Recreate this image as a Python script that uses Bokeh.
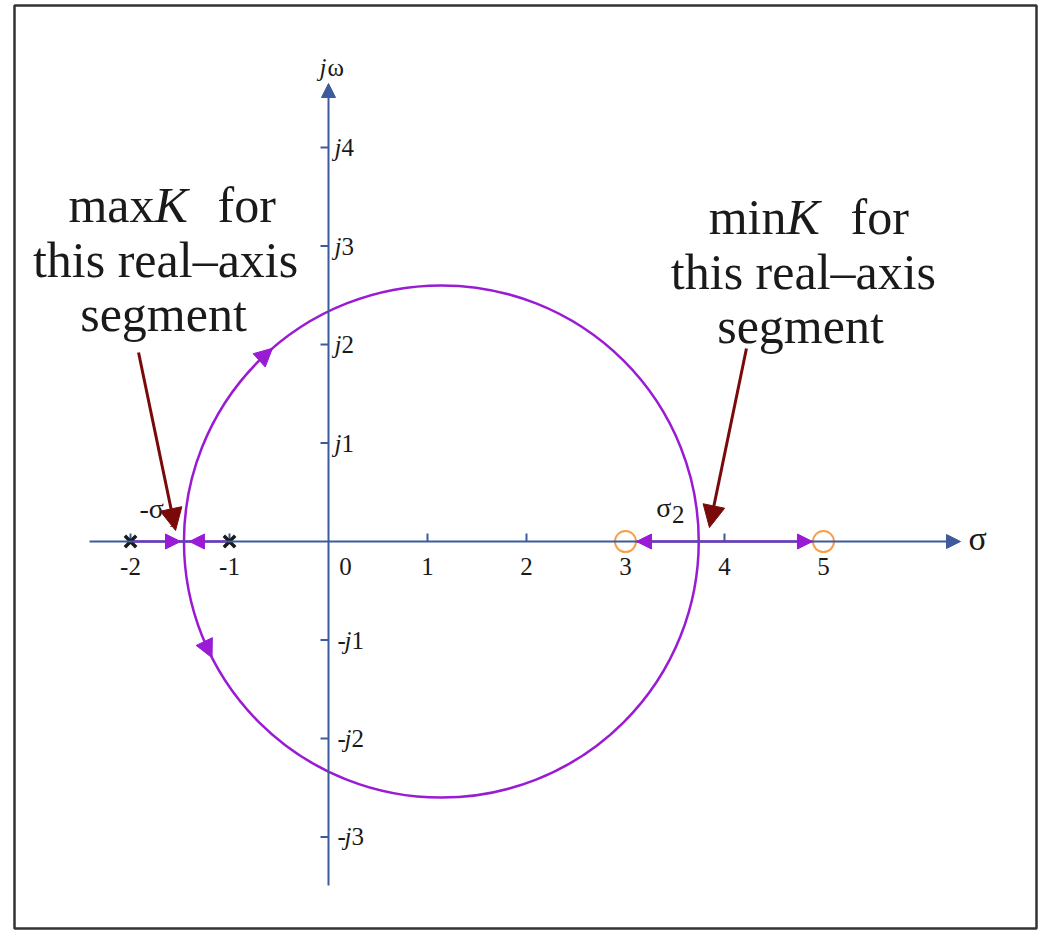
import numpy as np
from bokeh.plotting import figure
from bokeh.models import Range1d, Arrow, NormalHead
from bokeh.core.properties import value
from bokeh.embed import file_html
from bokeh.resources import INLINE

# Open-loop poles and zeros (all on the real axis)
poles = [-2.0, -1.0]
zeros = [3.0, 5.0]
# Break-away and break-in points of the locus
sigma1 = -1.46
sigma2 = 3.74

# Tick marks and labels
x_tick_values = [-2, -1, 1, 2, 3, 4, 5]
x_label_values = [-2, -1, 0, 1, 2, 3, 4, 5]
x_label_texts = ["-2", "-1", "0", "1", "2", "3", "4", "5"]
y_pos_ticks = [4, 3, 2, 1]
y_neg_ticks = [-1, -2, -3]

# Colours
AXIS = "#3d5a9c"
LOCUS = "#9a1bd4"
NOTE = "#7a0a0a"
ZERO = "#f5a04a"
INK = "#1a1a1a"
SERIF = value("Liberation Serif")
TICK_SIZE = "25px"

# pixels per unit on each axis
XS, YS = 99.0, 98.5

p = figure(width=1042, height=930,
           x_range=Range1d(-3.172, 7.152), y_range=Range1d(-3.929, 5.442),
           x_axis_type=None, y_axis_type=None,
           min_border_left=14, min_border_right=6, min_border_top=5, min_border_bottom=2,
           output_backend="svg", toolbar_location=None)
p.grid.visible = False
p.outline_line_color = "#333333"
p.outline_line_width = 2.5
p.background_fill_color = "white"
p.border_fill_color = "white"

# s-plane axes with arrow heads
p.add_layout(Arrow(end=NormalHead(size=14, fill_color=AXIS, line_color=AXIS),
                   x_start=-2.414, y_start=0, x_end=6.384, y_end=0,
                   line_color=AXIS, line_width=2))
p.add_layout(Arrow(end=NormalHead(size=14, fill_color=AXIS, line_color=AXIS),
                   x_start=0, y_start=-3.492, x_end=0, y_end=4.650,
                   line_color=AXIS, line_width=2))

# tick marks
p.segment(x0=x_tick_values, y0=[0] * len(x_tick_values),
          x1=x_tick_values, y1=[8 / YS] * len(x_tick_values),
          line_color=AXIS, line_width=2)
y_all = y_pos_ticks + y_neg_ticks
p.segment(x0=[-8 / XS] * len(y_all), y0=y_all, x1=[0] * len(y_all), y1=y_all,
          line_color=AXIS, line_width=2)

# x tick labels ("0" sits right of the imaginary axis)
x_offsets = [17 if v == 0 else 0 for v in x_label_values]
p.text(x=x_label_values, y=[0] * len(x_label_values), text=x_label_texts,
       x_offset=x_offsets, y_offset=[25] * len(x_label_values),
       text_font=SERIF, text_font_size=TICK_SIZE, text_color=INK,
       text_align="center", text_baseline="middle")

# y tick labels: italic j with upright digits
p.text(x=[0] * len(y_pos_ticks), y=y_pos_ticks, text=["j"] * len(y_pos_ticks),
       x_offset=6, text_font=SERIF, text_font_size=TICK_SIZE, text_font_style="italic",
       text_color=INK, text_align="left", text_baseline="middle")
p.text(x=[0] * len(y_pos_ticks), y=y_pos_ticks, text=[str(v) for v in y_pos_ticks],
       x_offset=13, text_font=SERIF, text_font_size=TICK_SIZE,
       text_color=INK, text_align="left", text_baseline="middle")
p.text(x=[0] * len(y_neg_ticks), y=y_neg_ticks, text=["-"] * len(y_neg_ticks),
       x_offset=9, text_font=SERIF, text_font_size=TICK_SIZE,
       text_color=INK, text_align="left", text_baseline="middle")
p.text(x=[0] * len(y_neg_ticks), y=y_neg_ticks, text=["j"] * len(y_neg_ticks),
       x_offset=16, text_font=SERIF, text_font_size=TICK_SIZE, text_font_style="italic",
       text_color=INK, text_align="left", text_baseline="middle")
p.text(x=[0] * len(y_neg_ticks), y=y_neg_ticks, text=[str(-v) for v in y_neg_ticks],
       x_offset=23, text_font=SERIF, text_font_size=TICK_SIZE,
       text_color=INK, text_align="left", text_baseline="middle")

# axis names
p.text(x=[6.465], y=[0.03], text=["σ"], text_font=SERIF, text_font_size="34px",
       text_color=INK, text_align="left", text_baseline="middle")
p.text(x=[-0.091], y=[4.812], text=["j"], text_font=SERIF, text_font_size=TICK_SIZE,
       text_font_style="italic", text_color=INK, text_align="left", text_baseline="middle")
p.text(x=[-0.01], y=[4.812], text=["ω"], text_font=SERIF, text_font_size=TICK_SIZE,
       text_color=INK, text_align="left", text_baseline="middle")

# real-axis parts of the locus
p.segment(x0=[poles[0], zeros[0]], y0=[0, 0], x1=[poles[1], zeros[1]], y1=[0, 0],
          line_color=LOCUS, line_width=2.5)

# complex part of the locus: circle through both break points
center = (sigma1 + sigma2) / 2
radius = (sigma2 - sigma1) / 2
p.ellipse(x=[center], y=[0], width=[2 * radius], height=[2 * radius],
          fill_color=None, line_color=LOCUS, line_width=2.5)

# direction arrows on the circle
def on_circle(deg):
    t = np.deg2rad(deg)
    return center + radius * np.cos(t), radius * np.sin(t)

for a0, a1 in [(134, 131), (204, 207)]:
    xs, ys = on_circle(a0)
    xe, ye = on_circle(a1)
    p.add_layout(Arrow(end=NormalHead(size=18, fill_color=LOCUS, line_color=LOCUS),
                       x_start=xs, y_start=ys, x_end=xe, y_end=ye,
                       line_alpha=0))

# direction arrows on the real axis
gap = 11 / XS
real_arrows = [
    (poles[0], sigma1 - 0.035),
    (poles[1], sigma1 + 0.055),
    (sigma2, zeros[0] + gap),
    (sigma2, zeros[1] - gap),
]
for xs, xe in real_arrows:
    p.add_layout(Arrow(end=NormalHead(size=15, fill_color=LOCUS, line_color=LOCUS),
                       x_start=xs, y_start=0, x_end=xe, y_end=0, line_alpha=0))

# poles and zeros
p.scatter(x=poles, y=[0] * len(poles), marker="x", size=16, line_width=3.5, line_color=INK)
p.scatter(x=zeros, y=[0] * len(zeros), marker="circle", size=21,
          fill_color="white", line_color=ZERO, line_width=2)

# break point names
p.text(x=[-1.909], y=[0.335], text=["-σ"], text_font=SERIF, text_font_size="28px",
       text_color=INK, text_align="left", text_baseline="middle")
p.text(x=[-1.62], y=[0.213], text=["1"], text_font=SERIF, text_font_size="18px",
       text_color=INK, text_align="left", text_baseline="middle")
p.text(x=[3.31], y=[0.345], text=["σ"], text_font=SERIF, text_font_size="28px",
       text_color=INK, text_align="left", text_baseline="middle")
p.text(x=[3.47], y=[0.27], text=["2"], text_font=SERIF, text_font_size="25px",
       text_color=INK, text_align="left", text_baseline="middle")

# notes on the gain at the break points
NOTE_SIZE = "50px"

def note_line(x, y, txt, align="center", style="normal"):
    p.text(x=[x], y=[y], text=[txt], text_font=SERIF, text_font_size=NOTE_SIZE,
           text_font_style=style, text_color=INK, text_align=align,
           text_baseline="middle")

note_line(-1.758, 3.421, "max", align="right")
note_line(-1.758, 3.421, "K", align="left", style="italic")
note_line(-1.121, 3.421, "for", align="left")
note_line(-1.646, 2.863, "this real\u2013axis")
note_line(-1.667, 2.305, "segment")

note_line(4.626, 3.299, "min", align="right")
note_line(4.626, 3.299, "K", align="left", style="italic")
note_line(5.273, 3.299, "for", align="left")
note_line(4.798, 2.741, "this real\u2013axis")
note_line(4.768, 2.183, "segment")

for (xs, ys), (xe, ye) in [((-1.919, 1.919), (-1.545, 0.112)),
                           ((4.222, 1.959), (3.848, 0.142))]:
    p.add_layout(Arrow(end=NormalHead(size=22, fill_color=NOTE, line_color=NOTE),
                       x_start=xs, y_start=ys, x_end=xe, y_end=ye,
                       line_color=NOTE, line_width=3))

open("out.html", "w").write(file_html(p, INLINE))
